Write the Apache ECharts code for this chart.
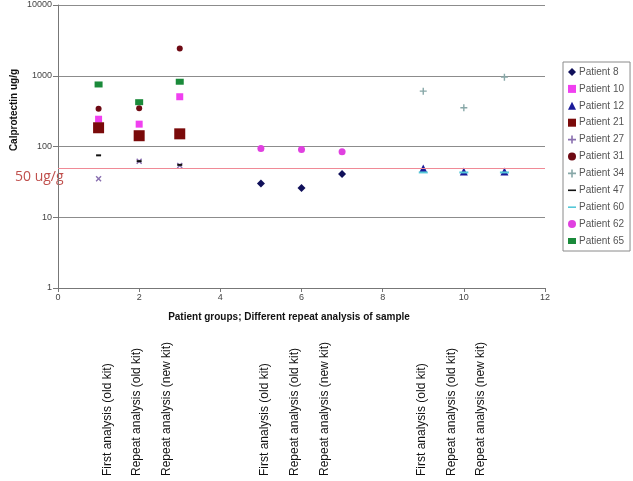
<!DOCTYPE html>
<html><head><meta charset="utf-8">
<script src="https://cdn.jsdelivr.net/npm/echarts@6/dist/echarts.min.js"></script>
<style>html,body{margin:0;padding:0;background:#fff}#c{width:633px;height:481px}</style>
</head><body><div id="c"></div>
<script>
// Data
const patients = ['Patient 8','Patient 10','Patient 12','Patient 21','Patient 27','Patient 31','Patient 34','Patient 47','Patient 60','Patient 62','Patient 65'];
const groupA = [1, 2, 3];
const groupB = [5, 6, 7];
const groupC = [9, 10, 11];
const p8  = [30, 26, 41];
const p10 = [243, 207, 505];
const p12 = [49, 44.5, 44.5];
const p21 = [184, 142, 151];
const p27 = [35, 62, 54];
const p31 = [341, 348, 2430];
const p34 = [606, 353, 955];
const p47 = [75, 62, 55];
const p60 = [43, 43, 43];
const p62 = [94, 91, 84];
const p65 = [753, 423, 823];
const cutoff = 50;
const yTicks = [1, 10, 100, 1000, 10000];
const sampleLabels = ['First analysis (old kit)', 'Repeat analysis (old kit)', 'Repeat analysis (new kit)'];

const plusPath = 'path://M4,0H6V4H10V6H6V10H4V6H0V4H4Z';
const dashPath = 'path://M0,4H10V6H0Z';
const pair = (xs, ys) => xs.map((x, i) => [x, ys[i]]);

const seriesDefs = [
  {name: patients[0], data: pair(groupB, p8), symbol: 'diamond', symbolSize: 8, color: '#10105a'},
  {name: patients[1], data: pair(groupA, p10), symbol: 'rect', symbolSize: 7, color: '#f040f0'},
  {name: patients[2], data: pair(groupC, p12), symbol: 'triangle', symbolSize: 8, color: '#1a1a99'},
  {name: patients[3], data: pair(groupA, p21), symbol: 'rect', symbolSize: 11, color: '#7a0a0a'},
  {name: patients[4], data: pair(groupA, p27), symbol: plusPath, symbolSize: 7, symbolRotate: 45, color: '#8a70b0'},
  {name: patients[5], data: pair(groupA, p31), symbol: 'circle', symbolSize: 6, color: '#6e0a14'},
  {name: patients[6], data: pair(groupC, p34), symbol: plusPath, symbolSize: 7, color: '#88a8a8'},
  {name: patients[7], data: pair(groupA, p47), symbol: 'rect', symbolSize: [5, 2], color: '#111111'},
  {name: patients[8], data: pair(groupC, p60), symbol: 'rect', symbolSize: [9, 2], color: '#55c8d8'},
  {name: patients[9], data: pair(groupB, p62), symbol: 'circle', symbolSize: 7, color: '#e040e0'},
  {name: patients[10], data: pair(groupA, p65), symbol: 'rect', symbolSize: [8, 6], color: '#1a8a3a'}
];

const series = seriesDefs.map(s => ({
  type: 'scatter', name: s.name, data: s.data, symbol: s.symbol, symbolSize: s.symbolSize,
  symbolRotate: s.symbolRotate || 0, itemStyle: {color: s.color, opacity: 1}, z: 3
}));
series[0].markLine = {
  silent: true, symbol: 'none', label: {show: false},
  lineStyle: {color: '#f08a96', width: 1, type: 'solid'},
  data: [{yAxis: cutoff}]
};

const legendData = patients.map((p, i) => {
  if (i === 7 || i === 8) return {name: p, icon: dashPath};
  if (i === 10) return {name: p, icon: 'path://M1,2H9V8H1Z'};
  return {name: p};
});

const labelX = [108, 137, 167, 265, 295, 325, 422, 452, 481];
const graphics = [
  {type: 'text', x: 14, y: 110, rotation: Math.PI / 2,
   style: {text: 'Calprotectin ug/g', font: 'bold 10px "Liberation Sans"', fill: '#111', align: 'center', verticalAlign: 'middle'}},
  {type: 'text', x: 15, y: 177,
   style: {text: cutoff + ' ug/g', font: '14px "Open Sans"', fill: '#c0504d', align: 'left', verticalAlign: 'middle'}}
];
labelX.forEach((x, i) => {
  graphics.push({type: 'text', x: x, y: 476, rotation: Math.PI / 2,
    style: {text: sampleLabels[i % 3], font: '12px "Liberation Sans"', fill: '#111', align: 'left', verticalAlign: 'middle'}});
});

const chart = echarts.init(document.getElementById('c'), null, {renderer: 'canvas'});
chart.setOption({
  backgroundColor: '#fff',
  animation: false,
  grid: {left: 58, right: 88, top: 5, bottom: 193, containLabel: false},
  xAxis: {
    type: 'value', min: 0, max: 12, interval: 2,
    name: 'Patient groups; Different repeat analysis of sample', nameLocation: 'middle', nameGap: 24,
    nameTextStyle: {fontWeight: 'bold', fontSize: 10, color: '#111', fontFamily: 'Liberation Sans', padding: [0, 25, 0, 0]},
    axisLine: {lineStyle: {color: '#777'}},
    axisTick: {show: true, length: 4, lineStyle: {color: '#777'}},
    axisLabel: {fontSize: 9, color: '#444', fontFamily: 'Liberation Sans', margin: 5},
    splitLine: {show: false}
  },
  yAxis: {
    type: 'log', logBase: 10, min: yTicks[0], max: yTicks[yTicks.length - 1],
    axisLine: {show: true, lineStyle: {color: '#777'}},
    axisTick: {show: true, length: 5, lineStyle: {color: '#777'}},
    axisLabel: {fontSize: 9, color: '#444', fontFamily: 'Liberation Sans', margin: 6,
      formatter: v => String(Math.round(v))},
    splitLine: {show: true, lineStyle: {color: '#8c8c8c', width: 1}}
  },
  legend: {
    orient: 'vertical', left: 563, top: 62,
    data: legendData,
    itemWidth: 8, itemHeight: 8, itemGap: 6.9,
    padding: [5, 6, 5, 5],
    borderColor: '#8a8a8a', borderWidth: 1,
    textStyle: {fontSize: 10, color: '#555', fontFamily: 'Liberation Sans', padding: [0, 0, 0, -2]}
  },
  graphic: graphics,
  series: series
});
</script></body></html>
